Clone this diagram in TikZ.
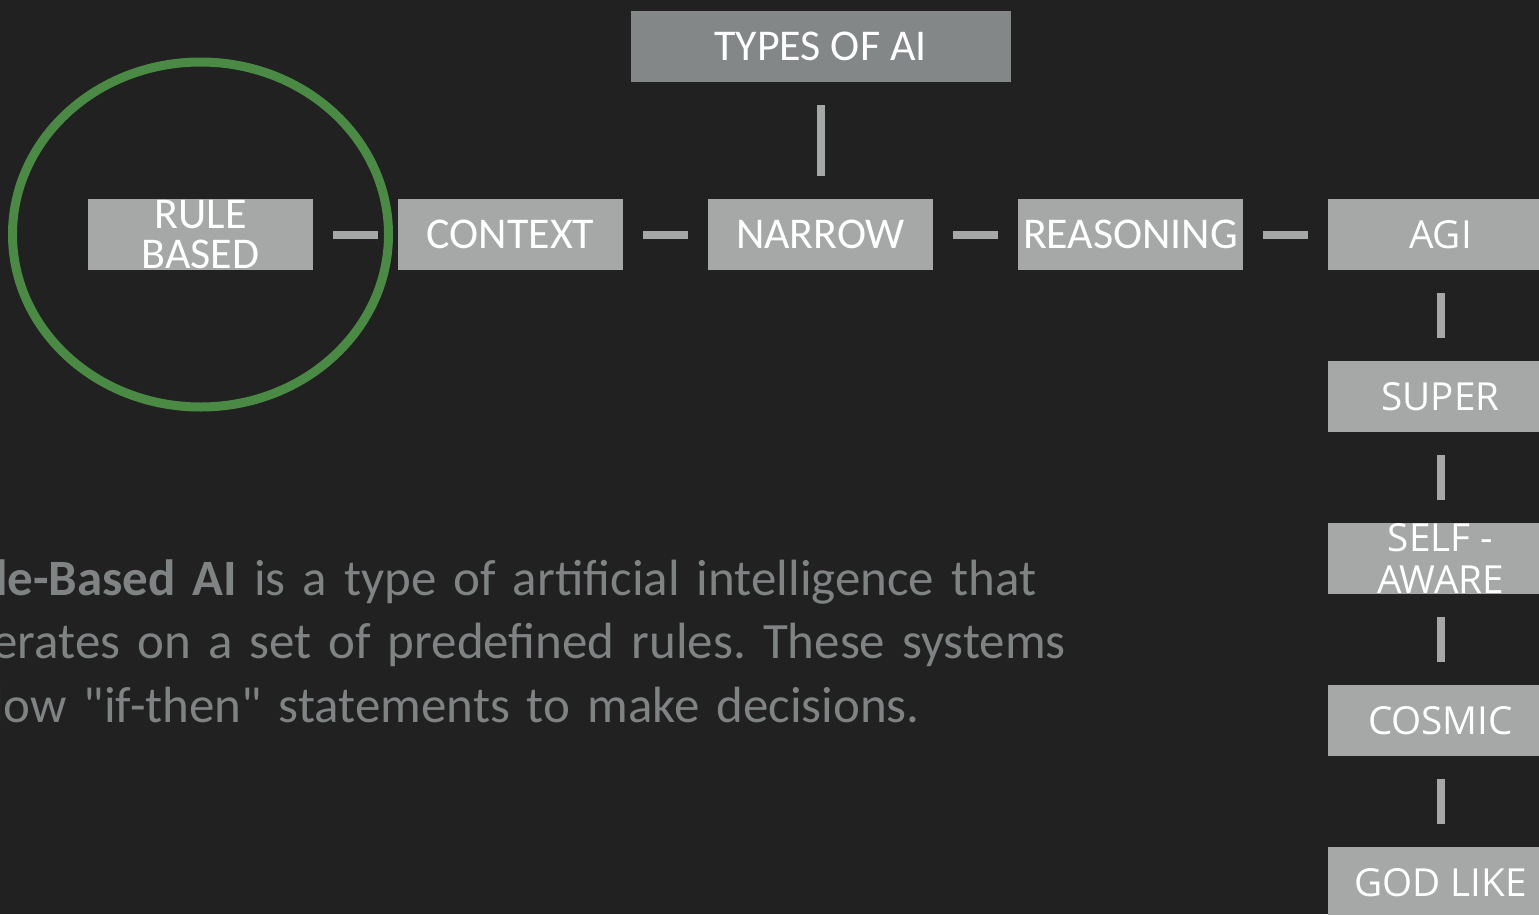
\documentclass[tikz,border=0pt]{standalone}
\usepackage{fontspec}
\setmainfont{Carlito}
\newfontfamily\aboutfont{Carlito}
\newfontfamily\widefont{Open Sans}
\usetikzlibrary{positioning}
\definecolor{bg}{HTML}{212121}
\definecolor{boxgray}{HTML}{A5A8A7}
\definecolor{topgray}{HTML}{838788}
\definecolor{ringgreen}{HTML}{4A8A45}
\definecolor{textgray}{HTML}{7F8383}
\tikzset{node distance=0.85cm, % Gap between two boxes of the row
        every node/.style={inner sep=0pt, outer sep=0pt},
        kind/.style={ % Sets the properties for each box
            rectangle,
            fill=boxgray,
            text=white,
            minimum width=2.25cm,
            minimum height=0.71cm,
            align=center,
            font=\fontsize{12.5}{11.4}\selectfont},
        tierbox/.style={ % Boxes of the right column use a wider face
            kind,
            font=\widefont\fontsize{11}{12.2}\selectfont},
        every edge/.style={ % Short bars between the boxes
            draw=boxgray,
            line width=0.08cm},
        hbar/.style={shorten <=0.2cm, shorten >=0.2cm},
        vbar/.style={shorten <=0.23cm, shorten >=0.23cm},
        ring/.style={draw=ringgreen, line width=0.09cm}
        }

\begin{document}
\begin{tikzpicture}
    \fill[bg] (0,0) rectangle (15.39,9.14);
    \useasboundingbox (0,0) rectangle (15.39,9.14);
    \clip (0,0) rectangle (15.39,9.14);

    \node[kind]                      (rule)      at (2.005,6.795) {RULE\\BASED};
    \node[kind, right=of rule]       (context)   {CONTEXT};
    \node[kind, right=of context]    (narrow)    {NARROW};
    \node[kind, right=of narrow]     (reasoning) {REASONING};
    \node[tierbox, right=of reasoning] (agi)     {AGI};
    \node[kind, fill=topgray, minimum width=3.8cm, above=1.17cm of narrow] (types) {TYPES OF AI};

    \node[tierbox, below=0.91cm of agi]   (super)   {SUPER};
    \node[tierbox, below=0.91cm of super] (self)    {SELF -\\AWARE};
    \node[tierbox, below=0.91cm of self]  (cosmic)  {COSMIC};
    \node[tierbox, below=0.91cm of cosmic] (godlike) {GOD LIKE};

    \draw
        (rule)      edge[hbar] (context)
        (context)   edge[hbar] (narrow)
        (narrow)    edge[hbar] (reasoning)
        (reasoning) edge[hbar] (agi)
        (types)     edge[vbar] (narrow)
        (agi)       edge[vbar] (super)
        (super)     edge[vbar] (self)
        (self)      edge[vbar] (cosmic)
        (cosmic)    edge[vbar] (godlike);

    \draw[ring] (rule.center) ellipse [x radius=1.88cm, y radius=1.725cm];

    \node[anchor=base west, text width=12cm, align=left, text=textgray,
          font=\aboutfont\fontsize{14.5}{18.2}\selectfont\frenchspacing] (about) at (-0.61,3.19)
        {\textbf{Rule-Based AI} is a type of artificial intelligence that\\
         operates on a set of predefined rules. These systems\\
         follow "if-then" statements to make decisions.};
\end{tikzpicture}
\end{document}
